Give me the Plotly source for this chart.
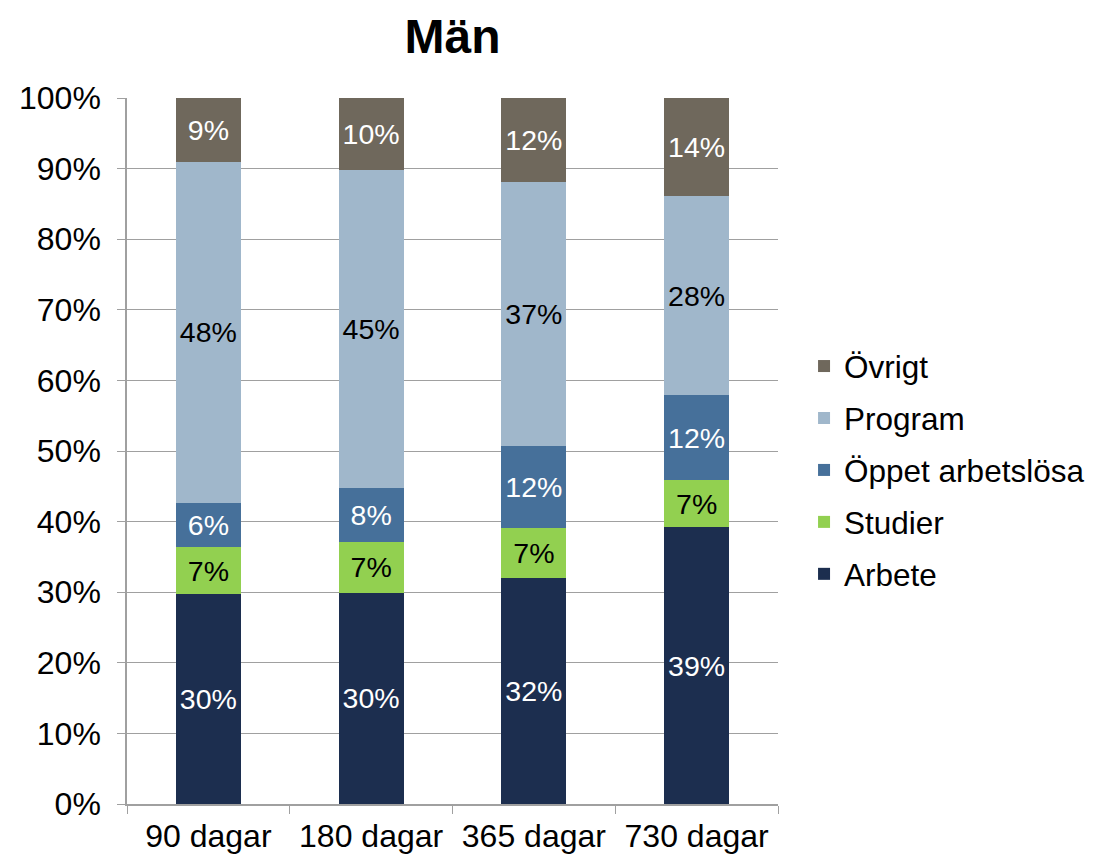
import plotly.graph_objects as go

categories = ["90 dagar", "180 dagar", "365 dagar", "730 dagar"]
arbete = [29.7, 29.9, 32.0, 39.2]
studier = [6.7, 7.2, 7.1, 6.7]
oppet = [6.2, 7.6, 11.6, 12.0]
program = [48.4, 45.1, 37.4, 28.2]
ovrigt = [9.0, 10.2, 11.9, 13.9]

series = [
    ("Arbete", arbete, "#1c2e4f", "white"),
    ("Studier", studier, "#92d050", "black"),
    ("Öppet arbetslösa", oppet, "#46709a", "white"),
    ("Program", program, "#a0b7cb", "black"),
    ("Övrigt", ovrigt, "#6f685c", "white"),
]

font = "Liberation Sans, Arial, sans-serif"

# page body has an 8px margin, so the figure is a bit smaller than the window
W, H = 1086, 849

fig = go.Figure()
for i, (name, vals, color, tcolor) in enumerate(series):
    fig.add_trace(
        go.Bar(
            x=categories,
            y=vals,
            name=name,
            legendgroup=name,
            legendrank=len(series) - i,
            marker=dict(color=color, line=dict(width=0)),
            texttemplate="%{y:.0f}%",
            textposition="inside",
            insidetextanchor="middle",
            textangle=0,
            textfont=dict(color=tcolor, size=28.5, family=font),
        )
    )

fig.update_layout(
    barmode="stack",
    bargap=0.6,
    width=W,
    height=H,
    paper_bgcolor="white",
    plot_bgcolor="white",
    margin=dict(l=119, r=W - 119 - 651, t=90, b=H - 90 - 706, autoexpand=False),
    font=dict(family=font, size=32, color="black"),
    title=dict(
        text="<b>Män</b>",
        x=(119 + 770) / 2 / W,
        xanchor="center",
        y=1 - 28 / H,
        yanchor="middle",
        font=dict(size=48, family=font),
    ),
    legend=dict(
        x=1.040,
        xanchor="left",
        y=0.473,
        yanchor="middle",
        traceorder="grouped",
        tracegroupgap=8,
        font=dict(size=31.5, family=font),
    ),
    uniformtext=dict(minsize=28, mode="show"),
)

fig.update_xaxes(
    automargin=False,
    showline=True,
    linecolor="#a0a0a0",
    linewidth=1.5,
    ticks="outside",
    tickson="boundaries",
    ticklen=8,
    tickcolor="#a0a0a0",
    ticklabelstandoff=3,
    showgrid=False,
)
fig.update_yaxes(
    automargin=False,
    range=[0, 100],
    tickvals=list(range(0, 101, 10)),
    ticktext=[f"{v}%" for v in range(0, 101, 10)],
    showline=True,
    linecolor="#a0a0a0",
    linewidth=1.5,
    ticks="outside",
    ticklen=8,
    tickcolor="#a0a0a0",
    ticklabelstandoff=10,
    showgrid=True,
    gridcolor="#a0a0a0",
    gridwidth=1,
    zeroline=False,
)

fig.write_html("out.html")
